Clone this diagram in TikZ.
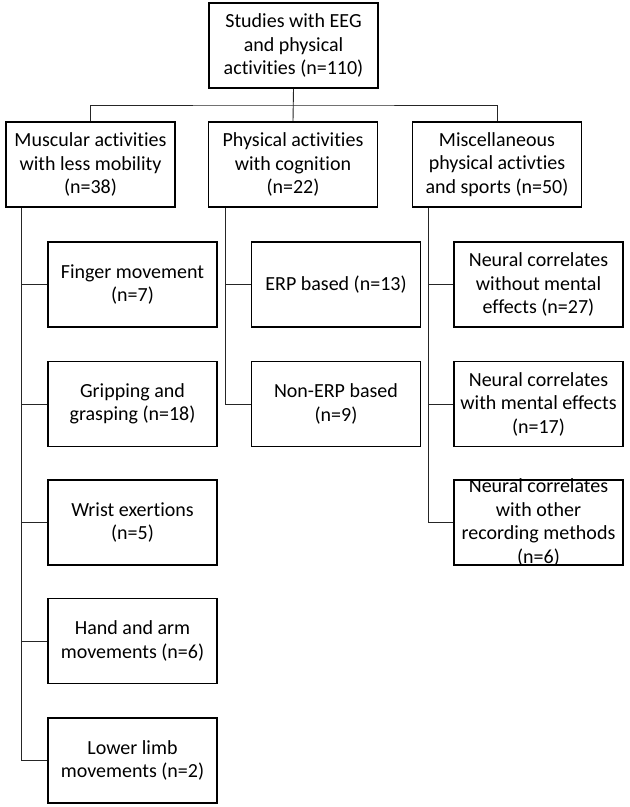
\documentclass[tikz,border=0pt]{standalone}
\usepackage{fontspec}
\setmainfont{Carlito}[Ligatures={NoCommon}]
\usetikzlibrary{calc}
\begin{document}
\begin{tikzpicture}[x=1pt,y=-1pt,
  box/.style={draw=black,line width=1.6pt,fill=white,minimum width=169pt,minimum height=85pt,
    align=center,inner sep=0pt,font=\fontsize{20}{23.5}\selectfont},
  txt/.style={align=center,inner sep=0pt,font=\fontsize{20}{23.5}\selectfont},
  conn/.style={draw=black!85,line width=0.9pt}]
\useasboundingbox[fill=white] (0,0) rectangle (630,807);
% nodes
\node[box] (top) at (293.5,45.5) {Studies with EEG\\and physical\\activities (n=110)};
\node[box] (l) at (90.5,164.5) {Muscular activities\\with less mobility\\(n=38)};
\node[box] (m) at (293,164.5) {Physical activities\\with cognition\\(n=22)};
\node[box] (r) at (497,164.5) {Miscellaneous\\physical activties\\and sports (n=50)};
\node[box] (l1) at (132.5,284.5) {Finger movement\\(n=7)};
\node[box] (l2) at (132.5,404) {Gripping and\\grasping (n=18)};
\node[box] (l3) at (132.5,522.5) {Wrist exertions\\(n=5)};
\node[box] (l4) at (132.5,641) {Hand and arm\\movements (n=6)};
\node[box] (l5) at (132.5,760.5) {Lower limb\\movements (n=2)};
\node[box] (m1) at (336,284.5) {ERP based (n=13)};
\node[box] (m2) at (336,404) {Non-ERP based\\(n=9)};
\node[box] (r1) at (538.5,284.5) {Neural correlates\\without mental\\effects (n=27)};
\node[box] (r2) at (538.5,404) {Neural correlates\\with mental effects\\(n=17)};
\node[box] (r3) at (538.5,522.5) {};
\node[txt] (r3t) at (r3.center) {Neural correlates\\with other\\recording methods\\(n=6)};
% trunks
\coordinate (lt) at ([xshift=16pt]l.south west);
\coordinate (mt) at ([xshift=18pt]m.south west);
\coordinate (rt) at ([xshift=17pt]r.south west);
% connectors
\draw[conn] (top.south) -- (m.north);
\draw[conn] (l.north) |- ($(top.south)!0.5!(m.north)$) -| (r.north);
\foreach \c in {l1,l2,l3,l4,l5} {\draw[conn] (lt) |- (\c.west);}
\foreach \c in {m1,m2} {\draw[conn] (mt) |- (\c.west);}
\foreach \c in {r1,r2,r3} {\draw[conn] (rt) |- (\c.west);}
\end{tikzpicture}
\end{document}
